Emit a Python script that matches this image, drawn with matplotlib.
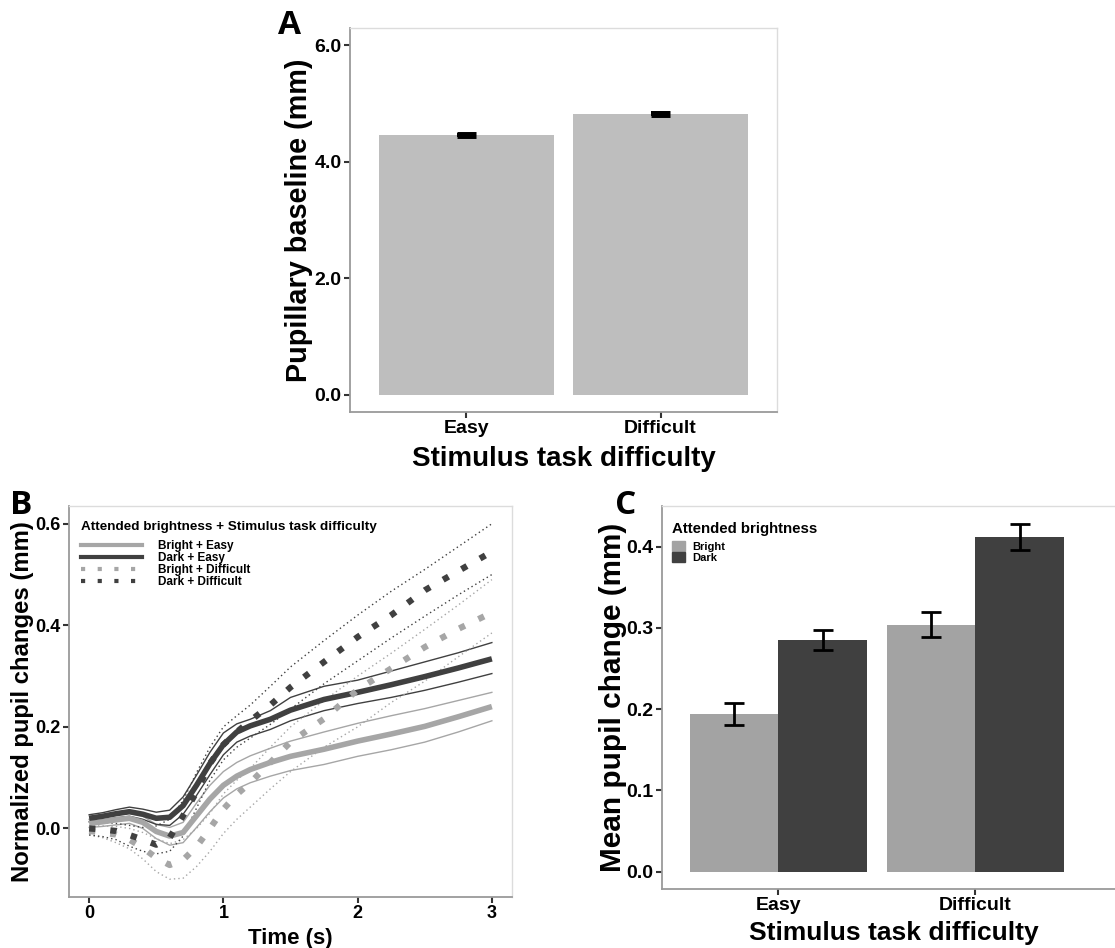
import matplotlib
matplotlib.use("Agg")
import matplotlib.pyplot as plt
from matplotlib.lines import Line2D
from matplotlib.patches import Patch
import numpy as np

plt.rcParams['font.family'] = ['Liberation Sans', 'DejaVu Sans']
plt.rcParams['font.weight'] = 'bold'

# ---------------- Data ----------------
# Panel A
a_categories = ["Easy", "Difficult"]
a_values = [4.46, 4.83]
a_errors = [0.03, 0.04]

# Panel B
time_s = [0, 0.1, 0.2, 0.3, 0.4, 0.5, 0.6, 0.7, 0.8, 0.9, 1.0, 1.1, 1.2, 1.35, 1.5, 1.75, 2.0, 2.25, 2.5, 2.75, 3.0]
bright_easy_mean = [0.010, 0.013, 0.017, 0.020, 0.012, -0.006, -0.015, -0.008, 0.025, 0.058, 0.085, 0.103, 0.116, 0.130, 0.142, 0.156, 0.172, 0.186, 0.201, 0.220, 0.240]
bright_easy_upper = [0.018, 0.022, 0.027, 0.030, 0.024, 0.008, 0.002, 0.012, 0.050, 0.085, 0.112, 0.130, 0.143, 0.158, 0.172, 0.190, 0.207, 0.222, 0.236, 0.252, 0.268]
bright_easy_lower = [0.002, 0.004, 0.007, 0.010, 0.000, -0.020, -0.033, -0.028, 0.002, 0.033, 0.060, 0.078, 0.090, 0.103, 0.114, 0.126, 0.142, 0.155, 0.170, 0.190, 0.212]
dark_easy_mean = [0.020, 0.024, 0.029, 0.033, 0.028, 0.020, 0.022, 0.045, 0.085, 0.128, 0.165, 0.190, 0.202, 0.215, 0.233, 0.254, 0.268, 0.283, 0.299, 0.316, 0.334]
dark_easy_upper = [0.027, 0.031, 0.037, 0.042, 0.038, 0.032, 0.036, 0.062, 0.105, 0.150, 0.188, 0.206, 0.215, 0.232, 0.258, 0.280, 0.292, 0.310, 0.328, 0.346, 0.366]
dark_easy_lower = [0.013, 0.016, 0.021, 0.024, 0.018, 0.008, 0.006, 0.028, 0.065, 0.106, 0.145, 0.170, 0.182, 0.195, 0.212, 0.232, 0.246, 0.258, 0.272, 0.288, 0.305]
bright_diff_mean = [-0.005, -0.008, -0.012, -0.022, -0.038, -0.058, -0.072, -0.062, -0.036, 0.000, 0.038, 0.067, 0.090, 0.130, 0.170, 0.216, 0.273, 0.315, 0.357, 0.393, 0.425]
bright_diff_upper = [0.005, 0.005, 0.004, 0.000, -0.008, -0.020, -0.030, -0.022, 0.000, 0.030, 0.068, 0.095, 0.118, 0.160, 0.200, 0.252, 0.300, 0.345, 0.392, 0.440, 0.490]
bright_diff_lower = [-0.012, -0.018, -0.028, -0.040, -0.060, -0.085, -0.100, -0.098, -0.075, -0.045, -0.010, 0.018, 0.042, 0.078, 0.112, 0.160, 0.200, 0.248, 0.290, 0.338, 0.385]
dark_diff_mean = [0.000, -0.002, -0.005, -0.013, -0.022, -0.032, -0.018, 0.025, 0.072, 0.128, 0.165, 0.190, 0.212, 0.243, 0.278, 0.328, 0.377, 0.420, 0.469, 0.507, 0.545]
dark_diff_upper = [0.013, 0.012, 0.010, 0.006, 0.002, 0.005, 0.018, 0.055, 0.110, 0.160, 0.200, 0.222, 0.243, 0.280, 0.318, 0.370, 0.420, 0.467, 0.510, 0.555, 0.600]
dark_diff_lower = [-0.013, -0.016, -0.022, -0.035, -0.045, -0.050, -0.045, -0.015, 0.040, 0.095, 0.135, 0.160, 0.178, 0.205, 0.235, 0.285, 0.330, 0.375, 0.418, 0.460, 0.500]
b_labels = ["Bright + Easy", "Dark + Easy", "Bright + Difficult", "Dark + Difficult"]

# Panel C
c_categories = ["Easy", "Difficult"]
c_bright = [0.194, 0.304]
c_bright_err = [0.013, 0.015]
c_dark = [0.285, 0.412]
c_dark_err = [0.012, 0.016]
c_groups = ["Bright", "Dark"]

# ---------------- Style ----------------
LIGHT = "#a6a6a6"
DARK = "#404040"
BAR_A = "#bebebe"
BAR_C_LIGHT = "#a3a3a3"
BAR_C_DARK = "#404040"

W, H = 1115, 948
fig = plt.figure(figsize=(W / 100, H / 100), dpi=100)


def px_axes(left, right, top, bottom):
    return fig.add_axes([left / W, (H - bottom) / H, (right - left) / W, (bottom - top) / H])


def style_axes(ax, tick_size):
    for s in ["top", "right"]:
        ax.spines[s].set_color("#dcdcdc")
        ax.spines[s].set_linewidth(1.0)
    for s in ["left", "bottom"]:
        ax.spines[s].set_color("#9a9a9a")
        ax.spines[s].set_linewidth(1.3)
    ax.tick_params(direction="out", length=4, width=1.5, color="#333333",
                   labelsize=tick_size, pad=2)
    for lab in ax.get_xticklabels() + ax.get_yticklabels():
        lab.set_fontweight("bold")
        lab.set_color("black")


# ---------------- Panel A ----------------
axA = px_axes(350, 777, 28, 412)
xa = np.arange(1, len(a_categories) + 1)
axA.bar(xa, a_values, width=0.9, color=BAR_A, zorder=2)
for xi, v, e in zip(xa, a_values, a_errors):
    axA.fill_between([xi - 0.05, xi + 0.05], [v - e] * 2, [v + e] * 2, color="black", lw=0, zorder=3)
    axA.plot([xi - 0.05, xi + 0.05], [v, v], color="black", lw=5, solid_capstyle="butt", zorder=3)
axA.set_xlim(0.4, 2.6)
axA.set_ylim(-0.3, 6.3)
axA.set_yticks([0, 2, 4, 6])
axA.set_yticklabels(["0.0", "2.0", "4.0", "6.0"])
axA.set_xticks(xa)
axA.set_xticklabels(a_categories)
style_axes(axA, 14)
axA.set_ylabel("Pupillary baseline (mm)", fontsize=20.8, fontweight="bold", labelpad=1)
axA.set_xlabel("Stimulus task difficulty", fontsize=20, fontweight="bold", labelpad=6)
fig.text(278 / W, 1 - 26 / H, "A", fontsize=24, fontweight="bold", family="Open Sans",
         ha="left", va="center")

# ---------------- Panel B ----------------
axB = px_axes(69, 512, 506, 897)
series = [
    (bright_easy_mean, bright_easy_lower, bright_easy_upper, LIGHT, "solid"),
    (dark_easy_mean, dark_easy_lower, dark_easy_upper, DARK, "solid"),
    (bright_diff_mean, bright_diff_lower, bright_diff_upper, LIGHT, "dotted"),
    (dark_diff_mean, dark_diff_lower, dark_diff_upper, DARK, "dotted"),
]
handles = []
for (m, lo, up, col, ls), lab in zip(series, b_labels):
    if ls == "solid":
        for band in (lo, up):
            axB.plot(time_s, band, color=col, lw=1.0, zorder=2)
        axB.plot(time_s, m, color=col, lw=4.0, zorder=3, solid_capstyle="butt",
                 solid_joinstyle="round")
        handles.append(Line2D([0], [0], color=col, lw=3.0))
    else:
        for band in (lo, up):
            axB.plot(time_s, band, color=col, lw=1.0, dashes=(1, 2.2), zorder=2)
        axB.plot(time_s, m, color=col, lw=4.5, dashes=(1.0, 2.4), zorder=3,
                 dash_capstyle="butt")
        handles.append(Line2D([0], [0], color=col, lw=3.0, dashes=(1, 3.0)))
axB.set_xlim(-0.15, 3.15)
axB.set_ylim(-0.135, 0.635)
axB.set_xticks([0, 1, 2, 3])
axB.set_yticks([0.0, 0.2, 0.4, 0.6])
axB.set_yticklabels(["0.0", "0.2", "0.4", "0.6"])
style_axes(axB, 13)
axB.set_ylabel("Normalized pupil changes (mm)", fontsize=17.2, fontweight="bold", labelpad=1)
axB.set_xlabel("Time (s)", fontsize=16, fontweight="bold", labelpad=4)
legB = axB.legend(handles, b_labels, loc="upper left", bbox_to_anchor=(0.008, 0.982),
                  frameon=False, fontsize=8.5, title="Attended brightness + Stimulus task difficulty",
                  title_fontproperties={"weight": "bold", "size": 9.7},
                  handlelength=5.2, labelspacing=0.0, handletextpad=1.3,
                  borderaxespad=0.3, alignment="left")
for txt in legB.get_texts():
    txt.set_fontweight("bold")
legB._legend_box.sep = 5
fig.text(10 / W, 1 - 505 / H, "B", fontsize=24, fontweight="bold", family="Open Sans",
         ha="left", va="center")

# ---------------- Panel C ----------------
axC = px_axes(662, 1125, 506, 889)
xc = np.arange(1, len(c_categories) + 1)
bw = 0.45
axC.bar(xc - bw / 2, c_bright, width=bw, color=BAR_C_LIGHT, zorder=2, label=c_groups[0])
axC.bar(xc + bw / 2, c_dark, width=bw, color=BAR_C_DARK, zorder=2, label=c_groups[1])
axC.errorbar(xc - bw / 2, c_bright, yerr=c_bright_err, fmt="none", ecolor="black",
             elinewidth=2, capsize=7, capthick=2, zorder=3)
axC.errorbar(xc + bw / 2, c_dark, yerr=c_dark_err, fmt="none", ecolor="black",
             elinewidth=2, capsize=7, capthick=2, zorder=3)
axC.set_xlim(0.41, 2.76)
axC.set_ylim(-0.0215, 0.45)
axC.set_xticks(xc)
axC.set_xticklabels(c_categories)
axC.set_yticks([0.0, 0.1, 0.2, 0.3, 0.4])
axC.set_yticklabels(["0.0", "0.1", "0.2", "0.3", "0.4"])
style_axes(axC, 14)
axC.set_ylabel("Mean pupil change (mm)", fontsize=21.4, fontweight="bold", labelpad=0)
axC.set_xlabel("Stimulus task difficulty", fontsize=19, fontweight="bold", labelpad=5)
legC = axC.legend([Patch(color=BAR_C_LIGHT), Patch(color=BAR_C_DARK)], c_groups,
                  loc="upper left", bbox_to_anchor=(0.0, 0.985), frameon=False,
                  fontsize=8, title="Attended brightness",
                  title_fontproperties={"weight": "bold", "size": 10.8},
                  handlelength=1.2, handleheight=1.0, labelspacing=0.0,
                  handletextpad=0.6, borderaxespad=0.5, alignment="left")
for txt in legC.get_texts():
    txt.set_fontweight("bold")
legC._legend_box.sep = 4
fig.text(615 / W, 1 - 505 / H, "C", fontsize=24, fontweight="bold", family="Open Sans",
         ha="left", va="center")

fig.savefig("out.png", dpi=100, facecolor="white")
